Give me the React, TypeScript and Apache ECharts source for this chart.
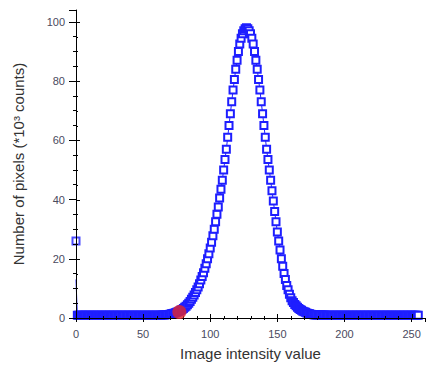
import React, { useEffect, useRef } from "react";
import * as echarts from "echarts";

// Histogram counts (*10^3) for intensity x = 1..255 (index 0 -> x = 1)
const counts: number[] = [
  // x 1-20
  0.9, 0.9, 0.9, 0.9, 0.9, 0.9, 0.9, 0.9, 0.9, 0.9,
  0.9, 0.9, 0.9, 0.9, 0.9, 0.9, 0.9, 0.9, 0.9, 0.9,
  // x 21-40
  0.9, 0.9, 0.9, 0.9, 0.9, 0.9, 0.9, 0.9, 0.9, 0.9,
  0.9, 0.9, 0.9, 0.9, 0.9, 0.9, 0.9, 0.9, 0.9, 0.9,
  // x 41-60
  0.9, 0.9, 0.9, 0.9, 0.9, 0.9, 0.9, 0.9, 0.9, 0.9,
  0.9, 0.9, 0.9, 0.9, 0.9, 0.9, 0.9, 0.9, 0.9, 0.9,
  // x 61-80
  0.9, 0.95, 0.95, 1.0, 1.0, 1.05, 1.1, 1.15, 1.2, 1.3,
  1.4, 1.5, 1.6, 1.75, 1.9, 2.1, 2.3, 2.6, 2.9, 3.2,
  // x 81-100
  3.6, 4, 4.5, 5, 5.6, 6.3, 7, 7.8, 8.6, 9.5,
  10.5, 11.6, 12.8, 14, 15.3, 16.8, 18.3, 20, 21.7, 23.6,
  // x 101-120
  25.6, 27.8, 30, 32.5, 35, 37.5, 40.5, 43.5, 46.5, 50,
  53.5, 57, 61, 65, 69, 73, 77, 80.5, 84, 87,
  // x 121-140
  90, 92.5, 94.5, 96, 97, 97.7, 98, 97.7, 97, 96,
  94.5, 92.5, 90, 87, 84, 80.5, 77, 73, 69, 65,
  // x 141-160
  61, 57, 53.5, 50, 46.5, 43, 39.5, 36, 32.5, 29,
  26, 23, 20, 17.5, 15, 13, 11, 9.5, 8, 6.8,
  // x 161-180
  5.8, 5.2, 4.6, 4.1, 3.6, 3.2, 2.9, 2.6, 2.3, 2.1,
  1.9, 1.7, 1.55, 1.4, 1.3, 1.2, 1.1, 1.0, 1.0, 1.0,
  // x 181-200
  1.0, 1.0, 1.0, 1.0, 1.0, 0.95, 0.95, 0.95, 0.95, 0.95,
  0.95, 0.95, 0.95, 0.95, 0.95, 0.95, 0.95, 0.95, 0.95, 0.95,
  // x 201-220
  0.95, 0.95, 0.95, 0.95, 0.95, 0.9, 0.9, 0.9, 0.9, 0.9,
  0.9, 0.9, 0.9, 0.9, 0.9, 0.9, 0.9, 0.9, 0.9, 0.9,
  // x 221-240
  0.9, 0.9, 0.9, 0.9, 0.9, 0.9, 0.9, 0.9, 0.9, 0.9,
  0.9, 0.9, 0.9, 0.9, 0.9, 0.9, 0.9, 0.9, 0.9, 0.9,
  // x 241-255
  0.9, 0.9, 0.9, 0.9, 0.9, 0.9, 0.9, 0.9, 0.9, 0.9,
  0.9, 0.9, 0.9, 0.9, 0.9,
];
const firstX = 1;
const zeroBinLine = 13; // value reached by the line at x = 0
const zeroBinMarker = [0, 26];
const redPoint = [77, 2];

const xTicks = [0, 50, 100, 150, 200, 250];
const yTicks = [0, 20, 40, 60, 80, 100];
const xMinorStep = 10;
const yMinorStep = 5;

const BLUE = "#1e1eff";
const LABEL = "#4a4a5e";

export default function App() {
  const ref = useRef<HTMLDivElement>(null);
  useEffect(() => {
    if (!ref.current) return;
    const chart = echarts.init(ref.current, null, { renderer: "svg" });
    const lineData: any[] = [
      { value: [0, zeroBinLine], symbol: "none" },
      ...counts.map((v, i) => [firstX + i, v]),
    ];
    const font = "Liberation Sans, Arial, sans-serif";
    const tickStyle = { color: "#000000", width: 1 };

    // inner halves of the crossing ticks: [x, y, dir, length]
    const innerTicks: any[] = [];
    for (let v = 0; v <= 255; v += xMinorStep) innerTicks.push([v, 0, 0, v % 50 === 0 ? 4 : 2]);
    for (let v = 0; v <= 100; v += yMinorStep) innerTicks.push([0, v, 1, v % 20 === 0 ? 4 : 2]);

    chart.setOption({
      animation: false,
      backgroundColor: "#ffffff",
      grid: { left: 76, right: 0, top: 10, bottom: 55 },
      xAxis: {
        type: "value",
        min: xTicks[0],
        max: 260,
        interval: xTicks[1] - xTicks[0],
        splitLine: { show: false },
        name: "Image intensity value",
        nameLocation: "middle",
        nameGap: 28,
        nameTextStyle: { fontFamily: font, fontSize: 15, color: "#333333" },
        axisLine: { show: true, onZero: false, lineStyle: { color: "#000", width: 1 } },
        axisTick: { show: true, inside: false, length: 4, lineStyle: tickStyle },
        minorTick: { show: true, splitNumber: 5, length: 2, lineStyle: tickStyle },
        axisLabel: {
          fontFamily: font,
          fontSize: 11,
          color: LABEL,
          margin: 10,
          formatter: (v: number) => (xTicks.includes(v) ? String(v) : ""),
        },
        z: 3,
      },
      yAxis: {
        type: "value",
        min: yTicks[0],
        max: 104,
        interval: yTicks[1] - yTicks[0],
        splitLine: { show: false },
        name: "Number of pixels (*10³ counts)",
        nameLocation: "middle",
        nameGap: 50,
        nameTextStyle: { fontFamily: font, fontSize: 15, color: "#333333" },
        axisLine: { show: true, onZero: false, lineStyle: { color: "#000", width: 1 } },
        axisTick: { show: true, inside: false, length: 7, lineStyle: tickStyle },
        minorTick: { show: true, splitNumber: 4, length: 3, lineStyle: tickStyle },
        axisLabel: {
          fontFamily: font,
          fontSize: 11,
          color: LABEL,
          margin: 11,
          formatter: (v: number) => (yTicks.includes(v) ? String(v) : ""),
        },
        z: 3,
      },
      series: [
        {
          type: "custom",
          coordinateSystem: "cartesian2d",
          data: innerTicks,
          clip: false,
          silent: true,
          z: 4,
          renderItem: (params: any, api: any) => {
            const p = api.coord([api.value(0), api.value(1)]);
            const dir = api.value(2);
            const len = api.value(3);
            if (dir === 0) {
              const x = Math.round(p[0]) + 0.5;
              return {
                type: "line",
                shape: { x1: x, y1: p[1], x2: x, y2: p[1] - len },
                style: { stroke: "#000", lineWidth: 1 },
              };
            }
            const y = Math.round(p[1]) + 0.5;
            return {
              type: "line",
              shape: { x1: p[0], y1: y, x2: p[0] + len, y2: y },
              style: { stroke: "#000", lineWidth: 1 },
            };
          },
        },
        {
          type: "line",
          data: lineData,
          symbol: "emptyRect",
          symbolSize: 7,
          showAllSymbol: true,
          lineStyle: { color: BLUE, width: 1 },
          itemStyle: { color: BLUE, borderColor: BLUE, borderWidth: 1 },
          z: 2,
        },
        {
          type: "scatter",
          data: [zeroBinMarker],
          symbol: "emptyRect",
          symbolSize: 7,
          itemStyle: { color: BLUE, borderColor: BLUE, borderWidth: 1 },
          z: 2,
        },
        {
          type: "scatter",
          data: [redPoint],
          symbol: "circle",
          symbolSize: 14,
          itemStyle: { color: "#e3262b" },
          z: 5,
        },
      ],
    });
    return () => chart.dispose();
  }, []);
  return (
    <div
      ref={ref}
      style={{ position: "fixed", left: 0, top: 0, width: 428, height: 373, background: "#fff" }}
    />
  );
}
